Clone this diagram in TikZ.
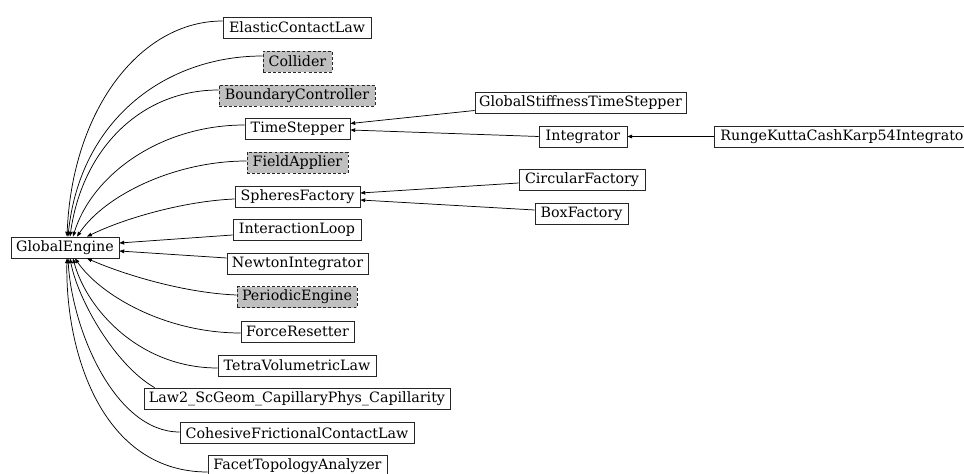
\documentclass[tikz,border=0pt]{standalone}
\usepackage{fontspec}
\setmainfont{DejaVu Serif}
\usetikzlibrary{arrows.meta,calc}
\begin{document}
\begin{tikzpicture}[x=0.75pt,y=-0.75pt,
  every node/.style={font=\fontsize{10.7}{12}\selectfont},
  cls/.style={draw=black!85,line width=0.6pt,rectangle,minimum height=21*0.75pt,inner sep=0pt},
  W/.style={minimum width=#1*0.75pt},
  abs/.style={cls,fill=black!25,dashed,dash pattern=on 2.2pt off 1.6pt},
  edge/.style={draw=black,line width=0.55pt,-{Triangle[length=3.6pt,width=2.8pt]}}]
\useasboundingbox (0,0) rectangle (964,474);
% nodes
\node[cls,W=108] (ge) at (65,247.5) {GlobalEngine};
\node[cls,W=148] (ecl) at (297,27.5) {ElasticContactLaw};
\node[abs,W=69] (col) at (297.5,61.5) {Collider};
\node[abs,W=156] (bc) at (297,95.5) {BoundaryController};
\node[cls,W=105] (ts) at (297.5,128.5) {TimeStepper};
\node[abs,W=101] (fa) at (297.5,162.5) {FieldApplier};
\node[cls,W=125] (sf) at (297.5,196.5) {SpheresFactory};
\node[cls,W=128] (il) at (297,230) {InteractionLoop};
\node[cls,W=141] (ni) at (297.5,263.5) {NewtonIntegrator};
\node[abs,W=120] (pe) at (297,297) {PeriodicEngine};
\node[cls,W=113] (fr) at (297.5,331.5) {ForceResetter};
\node[cls,W=158] (tv) at (297,365.5) {TetraVolumetricLaw};
\node[cls,W=306] (law) at (297,398.5) {Law2\_ScGeom\_CapillaryPhys\_Capillarity};
\node[cls,W=234] (cfc) at (297,433) {CohesiveFrictionalContactLaw};
\node[cls,W=179] (fta) at (297.5,465.5) {FacetTopologyAnalyzer};
\node[cls,W=211] (gst) at (580.5,102.5) {GlobalStiffnessTimeStepper};
\node[cls,W=88] (integ) at (583,136.5) {Integrator};
\node[cls,inner xsep=4.5pt,anchor=west] (rk) at (714,136.5) {RungeKuttaCashKarp54Integrator};
\node[cls,W=126] (cf) at (582,179.5) {CircularFactory};
\node[cls,W=93] (bf) at (581.5,213.5) {BoxFactory};
% edges to GlobalEngine (top)
\draw[edge] ($(ecl.west)+(0,-6.5)$) .. controls (140,21) and (72,110) .. ($(ge.north)+(2,0)$);
\draw[edge] ($(col.west)+(0,-5.5)$) .. controls (165,56) and (80,120) .. ($(ge.north)+(3,0)$);
\draw[edge] ($(bc.west)+(0,-5.5)$) .. controls (140,90) and (82,150) .. ($(ge.north)+(5,0)$);
\draw[edge] ($(ts.west)+(0,-3.5)$) .. controls (160,125) and (92,175) .. ($(ge.north)+(8,0)$);
\draw[edge] ($(fa.west)+(0,-1.5)$) .. controls (175,161) and (105,195) .. ($(ge.north)+(12,0)$);
\draw[edge] ($(sf.west)+(0,2.5)$) .. controls (185,201) and (125,218) .. ($(ge.north)+(22,0)$);
% straight ones
\draw[edge] ($(il.west)+(0,5)$) -- ($(ge.east)+(0,-4.5)$);
\draw[edge] ($(ni.west)+(0,-5.5)$) -- ($(ge.east)+(0,3.5)$);
% edges to GlobalEngine (bottom)
\draw[edge] ($(pe.west)+(0,-2)$) .. controls (185,293) and (125,275) .. ($(ge.south)+(22,0)$);
\draw[edge] ($(fr.west)+(0,1.5)$) .. controls (165,333) and (100,295) .. ($(ge.south)+(10,0)$);
\draw[edge] ($(tv.west)+(0,2.5)$) .. controls (140,368) and (87,310) .. ($(ge.south)+(8,0)$);
\draw[edge] ($(law.north west)+(11,0)$) .. controls (115,365) and (78,300) .. ($(ge.south)+(5,0)$);
\draw[edge] ($(cfc.west)+(0,-1)$) .. controls (115,432) and (72,330) .. ($(ge.south)+(3,0)$);
\draw[edge] ($(fta.west)+(0,6.5)$) .. controls (102,472) and (65,352) .. ($(ge.south)+(2,0)$);
% right side
\draw[edge] ($(gst.west)+(0,8)$) -- ($(ts.east)+(0,-5)$);
\draw[edge] (integ.west) -- ($(ts.east)+(0,1.5)$);
\draw[edge] (rk.west) -- (integ.east);
\draw[edge] ($(cf.west)+(0,3.5)$) -- ($(sf.east)+(0,-3.5)$);
\draw[edge] ($(bf.west)+(0,-3.5)$) -- ($(sf.east)+(0,3.5)$);
\end{tikzpicture}
\end{document}
